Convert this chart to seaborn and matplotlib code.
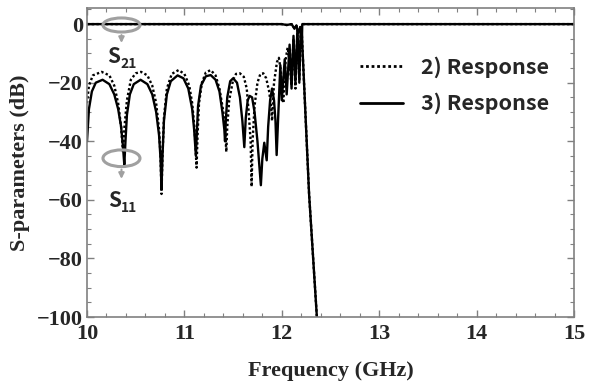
import numpy as np
import pandas as pd
import matplotlib
matplotlib.use('Agg')
import matplotlib.pyplot as plt
from matplotlib.lines import Line2D
from matplotlib.patches import Ellipse
from matplotlib.ticker import MultipleLocator
import seaborn as sns

# 3) Response (solid) - S11
s11_r3_f = [10.00, 10.02, 10.05, 10.09, 10.16, 10.23, 10.28, 10.32, 10.35, 10.37, 10.383,
            10.395, 10.41, 10.44, 10.48, 10.55, 10.62, 10.67, 10.71, 10.74, 10.755, 10.765,
            10.775, 10.79, 10.82, 10.86, 10.93, 10.99, 11.04, 11.08, 11.10, 11.118,
            11.128, 11.14, 11.17, 11.22, 11.27, 11.32, 11.36, 11.39, 11.41, 11.417,
            11.425, 11.44, 11.47, 11.50, 11.54, 11.57, 11.595, 11.615,
            11.63, 11.65, 11.67, 11.695, 11.72, 11.75, 11.785, 11.80, 11.82, 11.845,
            11.86, 11.88, 11.90, 11.92, 11.935, 11.947,
            11.965, 11.985, 12.00, 12.03, 12.05, 12.08, 12.10, 12.12, 12.14, 12.16,
            12.18, 12.195, 12.205, 12.21, 15.00]
s11_r3_db = [-40, -29, -23, -20, -19, -20.5, -24, -29, -35, -42, -48,
             -40, -31, -24, -20.5, -19, -20.5, -24, -30, -38, -46, -56,
             -45, -33, -24, -19.5, -17.5, -18.5, -22, -29, -36, -45,
             -37, -28, -21, -17.8, -17.4, -19, -23, -30, -36, -40,
             -33, -25, -19.5, -18.5, -20, -25, -33, -42,
             -32, -26, -24.5, -25, -30, -40, -55, -46, -40.5, -46.5,
             -35, -26, -22, -26, -33, -44.7,
             -30, -14, -26, -12, -24, -7, -22, -4, -20, -2,
             -19, -1, -8, 0, 0]

# 3) Response (solid) - S21
s21_r3_f = [10.00, 12.00, 12.05, 12.10, 12.13, 12.15, 12.17, 12.19, 12.205, 12.28, 12.36]
s21_r3_db = [0, 0, -0.3, 0, -1.5, -0.5, -3, -1, -3, -58, -100]

# 2) Response (dotted) - S11
s11_r2_f = [10.00, 10.02, 10.06, 10.15, 10.23, 10.28, 10.32, 10.35, 10.37,
            10.385, 10.41, 10.45, 10.50, 10.555, 10.62, 10.67, 10.71, 10.74, 10.755, 10.765,
            10.775, 10.79, 10.82, 10.87, 10.94, 11.00, 11.05, 11.08, 11.105, 11.125,
            11.135, 11.15, 11.18, 11.22, 11.27, 11.32, 11.36, 11.40, 11.42, 11.43,
            11.44, 11.46, 11.50, 11.53, 11.57, 11.61, 11.64, 11.66, 11.68, 11.69,
            11.70, 11.72, 11.75, 11.78, 11.81, 11.84, 11.87, 11.89, 11.90,
            11.92, 11.95, 11.97, 11.99, 12.015, 12.04, 12.06, 12.08, 12.10, 12.12,
            12.14, 12.16, 12.18, 12.195, 12.21, 15.00]
s11_r2_db = [-27, -21, -17.5, -16.3, -17.5, -21, -27, -35, -44,
             -35, -26, -19, -16.8, -16.3, -17.5, -21, -27, -36, -45, -58,
             -45, -32, -22, -17, -15.7, -17, -21, -27, -36, -49,
             -38, -27, -20, -16.5, -15.7, -17.5, -22, -30, -37, -43.6,
             -35, -26, -19, -17, -16.8, -18, -22, -30, -40, -55.5,
             -40, -28, -20, -17, -16.8, -18.5, -23, -28, -33,
             -20, -13, -11.5, -16, -27, -12, -8, -13, -21, -5,
             -22, -3, -20, -2, 0, 0]

# 2) Response (dotted) - S21
s21_r2_f = [10.00, 12.00, 12.05, 12.10, 12.13, 12.15, 12.17, 12.19, 12.205, 12.28, 12.36]
s21_r2_db = [0, 0, -0.3, 0, -1.5, -0.5, -3, -1, -3, -58, -100]

labels = ['2) Response', '3) Response']

frames = []
for resp, par, f, d in [(labels[0], 'S11', s11_r2_f, s11_r2_db),
                        (labels[0], 'S21', s21_r2_f, s21_r2_db),
                        (labels[1], 'S11', s11_r3_f, s11_r3_db),
                        (labels[1], 'S21', s21_r3_f, s21_r3_db)]:
    frames.append(pd.DataFrame({'freq': f, 'db': d, 'response': resp, 'param': resp + par}))
df = pd.concat(frames, ignore_index=True)

sns.set_theme(style='ticks')
plt.rcParams['font.family'] = ['Liberation Serif', 'DejaVu Serif']

fig = plt.figure(figsize=(5.93, 3.85), dpi=100)
ax = fig.add_axes([0.1467, 0.1766, 0.8213, 0.8026])

sns.lineplot(data=df, x='freq', y='db', style='response', units='param', estimator=None,
             sort=False, color='black', lw=1.7,
             dashes={labels[0]: (1, 1), labels[1]: ''}, legend=False, ax=ax)

ax.set_xlim(10, 15)
ax.set_ylim(-100, 5.5)
ax.xaxis.set_major_locator(MultipleLocator(1))
ax.xaxis.set_minor_locator(MultipleLocator(0.2))
ax.yaxis.set_major_locator(MultipleLocator(20))
ax.yaxis.set_minor_locator(MultipleLocator(5))
ax.tick_params(which='both', direction='in', top=True, right=True, color='#808080',
               labelsize=16)
ax.tick_params(axis='x', pad=5)
ax.tick_params(axis='y', pad=3)
ax.tick_params(which='major', length=5, width=1)
ax.tick_params(which='minor', length=3, width=0.8)
for t in ax.get_xticklabels() + ax.get_yticklabels():
    t.set_fontweight('bold')
for s in ax.spines.values():
    s.set_color('#808080')
    s.set_linewidth(1.2)

ax.set_xlabel('Frequency (GHz)', fontsize=16, fontweight='bold', labelpad=12)
ax.set_ylabel('S-parameters (dB)', fontsize=16, fontweight='bold', labelpad=5)

# annotations
gray = '#a0a0a0'
sans = ['Noto Sans CJK KR', 'DejaVu Sans']
ax.add_patch(Ellipse((10.354, -0.3), 0.38, 4.8, fill=False, ec=gray, lw=2.2, zorder=5))
ax.annotate('', xy=(10.354, -7.4), xytext=(10.354, -2.8),
            arrowprops=dict(arrowstyle='-|>', color=gray, lw=1.5, mutation_scale=8))
ax.add_patch(Ellipse((10.354, -45.8), 0.38, 5.7, fill=False, ec=gray, lw=2.2, zorder=5))
ax.annotate('', xy=(10.354, -53.8), xytext=(10.354, -48.7),
            arrowprops=dict(arrowstyle='-|>', color=gray, lw=1.5, mutation_scale=8))
for xs, ys, xb, yb, sub in [(10.202, -13.4, 10.339, -15.1, '21'),
                            (10.219, -62.35, 10.349, -64.06, '11')]:
    ax.text(xs, ys, 'S', family=sans, fontsize=15, fontweight='bold', ha='left', va='baseline')
    ax.text(xb, yb, sub, family=sans, fontsize=10, fontweight='bold', ha='left', va='baseline')

handles = [Line2D([], [], color='black', lw=2, dashes=(1, 1)),
           Line2D([], [], color='black', lw=2)]
ax.legend(handles, labels, loc='upper left', bbox_to_anchor=(0.56, 0.843), frameon=False,
          handlelength=2.0, handletextpad=0.85, labelspacing=0.68, borderpad=0, borderaxespad=0,
          prop={'family': sans, 'size': 15.5, 'weight': 'bold'})

fig.savefig('out.png', dpi=100)
